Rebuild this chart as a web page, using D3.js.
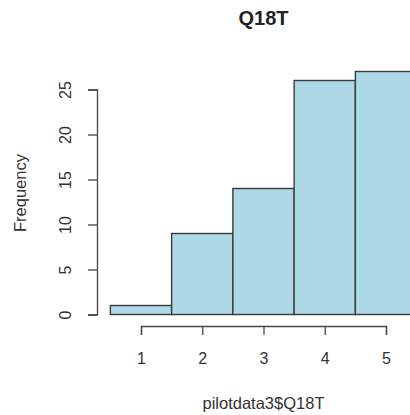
<!DOCTYPE html>
<html><head><meta charset="utf-8">
<script src="https://cdn.jsdelivr.net/npm/d3@7"></script>
<style>body{margin:0;background:#fff}svg{display:block}</style>
</head><body>
<svg id="c" width="410" height="415"></svg>
<script>
const binStarts = [0.5, 1.5, 2.5, 3.5, 4.5];
const binWidth = 1;
const counts = [1, 9, 14, 26, 27];
const xTicks = [1, 2, 3, 4, 5];
const yTicks = [0, 5, 10, 15, 20, 25];
const title = "Q18T";
const xLabel = "pilotdata3$Q18T";
const yLabel = "Frequency";

const svg = d3.select("#c");
const font = "'Liberation Sans', Arial, sans-serif";
const x = d3.scaleLinear().domain([1, 5]).range([141, 386]);
const y = d3.scaleLinear().domain([0, 25]).range([314.5, 89.5]);

svg.append("g").selectAll("rect").data(counts).join("rect")
  .attr("x", (d, i) => x(binStarts[i]))
  .attr("y", d => y(d))
  .attr("width", (d, i) => x(binStarts[i] + binWidth) - x(binStarts[i]))
  .attr("height", d => y(0) - y(d))
  .attr("fill", "#add8e6").attr("stroke", "#3a3a3a").attr("stroke-width", 1.4);

const xa = svg.append("g").attr("transform", "translate(0,326)")
  .call(d3.axisBottom(x).tickValues(xTicks).tickSize(9).tickPadding(18).tickFormat(d3.format("d")));
const ya = svg.append("g").attr("transform", "translate(97,0)")
  .call(d3.axisLeft(y).tickValues(yTicks).tickSize(9).tickFormat(d3.format("d")));
[xa, ya].forEach(a => {
  a.select(".domain").attr("stroke", "#444").attr("stroke-width", 1.3);
  a.selectAll(".tick line").attr("stroke", "#444").attr("stroke-width", 1.3);
  a.selectAll("text").attr("fill", "#333").style("font-family", font).style("font-size", "16px");
});
ya.selectAll(".tick text")
  .attr("x", null).attr("dy", null).attr("y", 0)
  .attr("transform", "translate(-26,0) rotate(-90)")
  .attr("text-anchor", "middle");

svg.append("text").attr("x", 263.5).attr("y", 25).attr("text-anchor", "middle")
  .style("font-family", font).style("font-size", "20px").style("font-weight", "bold")
  .attr("fill", "#222").text(title);
svg.append("text").attr("x", 263.5).attr("y", 409).attr("text-anchor", "middle")
  .style("font-family", font).style("font-size", "16.5px").attr("fill", "#333").text(xLabel);
svg.append("text").attr("transform", "translate(26,193) rotate(-90)").attr("text-anchor", "middle")
  .style("font-family", font).style("font-size", "16.5px").attr("fill", "#333").text(yLabel);
</script>
</body></html>
